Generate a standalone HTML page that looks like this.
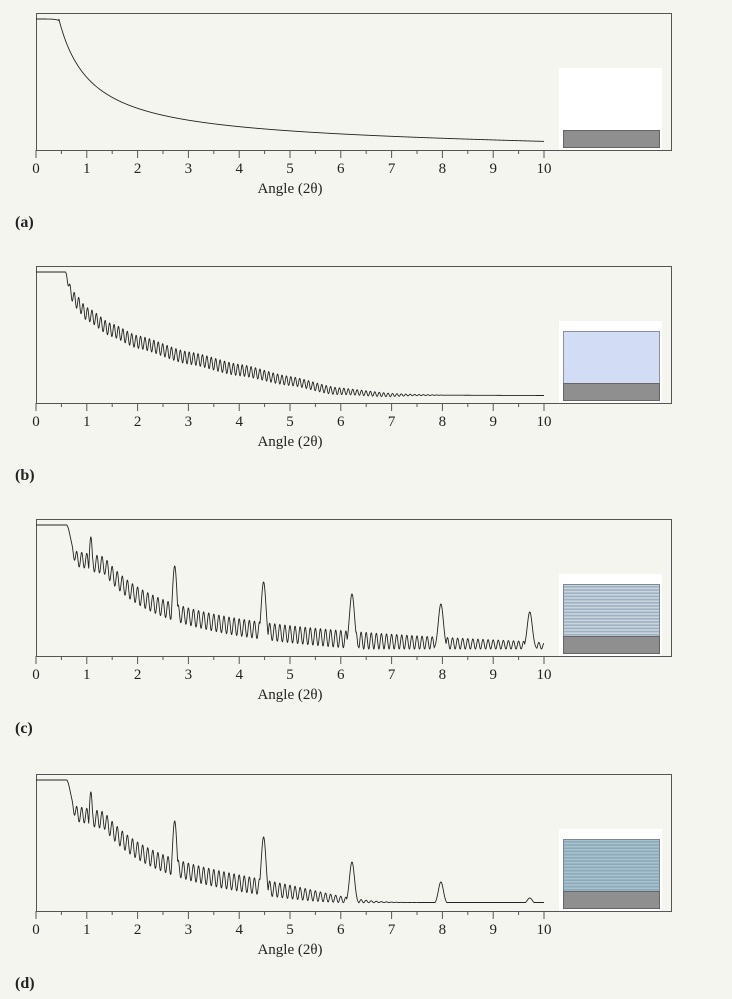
<!DOCTYPE html>
<html><head><meta charset="utf-8"><style>
html,body{margin:0;padding:0;background:#f5f5f0;}
svg{display:block;}
text{font-family:"Liberation Serif",serif;fill:#222;}
</style></head><body>
<svg id="s" width="732" height="999" xmlns="http://www.w3.org/2000/svg"></svg>
<script>
const S=document.getElementById('s');
const NS='http://www.w3.org/2000/svg';
function el(t,a,txt){const e=document.createElementNS(NS,t);for(const k in a)e.setAttribute(k,a[k]);if(txt!==undefined)e.textContent=txt;S.appendChild(e);return e;}
const offs=[0,253,506,761], labs=['(a)','(b)','(c)','(d)'];
const X=t=>36+t*50.8;
function A(u){ if(u<=0)return 124; return Math.max(0.5,77.6/(u+0.626)-0.63*u);}
function interp(T,u){ if(u<=T[0][0])return T[0][1]; for(let i=1;i<T.length;i++){if(u<=T[i][0]){const a=T[i-1],b=T[i];const f=(u-a[0])/(b[0]-a[0]);const s=f*f*(3-2*f);return a[1]+(b[1]-a[1])*(0.5*f+0.5*s);}} return T[T.length-1][1];}
const BT=[[0,124],[0.1,104],[0.2,95],[0.42,82],[0.9,66],[1.42,54],[2.42,38],[3.42,26],[4.42,15],[5.32,5],[6.4,1],[9.42,0.5]];
const BA=[[0,0],[0.1,13],[3,12],[5,8],[5.9,5],[7,1],[7.5,0],[10,0]];
function H(p,t){
 const tc=[0.45,0.58,0.66,0.66][p];
 if(p==0){ if(t<tc)return 124-1.5*Math.pow(t/tc,6); return A(t-tc);}
 if(p==1){ if(t<tc)return 124; const u=t-tc;const amp=interp(BA,u);const c=Math.cos(2*Math.PI*u/0.087);return interp(BT,u)+amp*(0.5*c);}
 const pk=[1.08,2.73,4.48,6.22,7.97,9.72];
 const ph=p==2?[112,83,67,55,45,37]:[112,83,67,42,22,6];
 let damp=p==3?Math.exp(-Math.pow(t/6,8)):1;
 let plat;
 if(t<0.6)plat=124; else if(t<0.76){const f=(t-0.6)/0.16;plat=124-26*f*f*(3-2*f);} else plat=98-(t-0.76)*10;
 let top=Math.min(plat,1.5*A(t-0.66)+4);
 let depth=Math.min(17,top)*Math.max(0,Math.min(1,(t-0.7)/0.1));
 if(t<1.0)depth=Math.min(depth,15);
 const c=Math.cos(2*Math.PI*(t-0.7)/0.1);
 let h=top-depth*(1-c)/2;
 h=h*damp+(1-damp)*1.5;
 for(let i=0;i<6;i++){const d=t-pk[i];const g=Math.exp(-d*d/(2*0.05*0.05));h=Math.max(h,ph[i]*g);}
 return h;
}
for(let p=0;p<4;p++){
 const o=offs[p];
 el('rect',{x:36.5,y:13.5+o,width:635,height:137,fill:'none',stroke:'#555','stroke-width':1});
 el('rect',{x:559,y:68+o,width:103,height:82,fill:'#ffffff'});
 if(p==1)el('rect',{x:563.5,y:78.5+o,width:96,height:52,fill:'#d2dcf4',stroke:'#8a90a0'});
 if(p>=2){el('rect',{x:563.5,y:78.5+o,width:96,height:52,fill:p==2?'#c9d7dc':'#a9c2cc',stroke:'#7a8890'});
   for(let y=80;y<130;y+=3.2)el('rect',{x:564,y:y+o,width:95,height:1.6,fill:p==2?'#9fb0c4':'#8aaabb'});}
 el('rect',{x:563.5,y:130.5+o,width:96,height:17,fill:'#8f8f8f',stroke:'#666'});
 let d='';for(let t=0;t<=10.0001;t+=0.003){const y=143-H(p,t)+o;d+=(d?'L':'M')+X(t).toFixed(2)+' '+y.toFixed(2);}
 el('path',{d:d,fill:'none',stroke:'#222','stroke-width':0.9});
 for(let i=0;i<=20;i++){const x=X(i/2);el('line',{x1:x,x2:x,y1:150+o,y2:(i%2?154:158)+o,stroke:'#555'});
   if(i%2==0)el('text',{x:x,y:173+o,'font-size':15,'text-anchor':'middle'},String(i/2));}
 el('text',{x:290,y:193+o,'font-size':15,'text-anchor':'middle'},'Angle (2θ)');
 el('text',{x:15,y:227+o,'font-size':16,'font-weight':'bold'},labs[p]);
}
</script>
</body></html>
